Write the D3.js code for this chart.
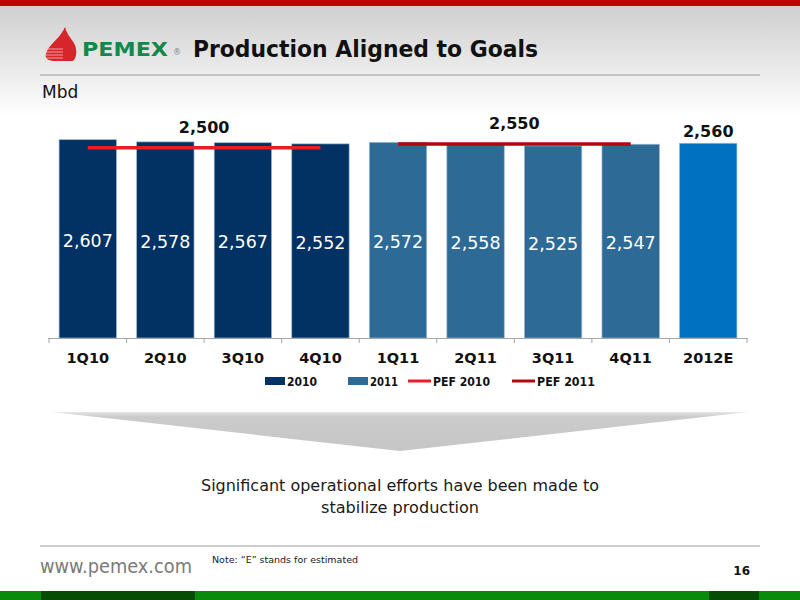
<!DOCTYPE html>
<html>
<head>
<meta charset="utf-8">
<script src="https://cdn.jsdelivr.net/npm/d3@7"></script>
<style>
  body { margin: 0; background: #fff; }
  svg { display: block; }
  text { font-family: "DejaVu Sans", Verdana, sans-serif; }
</style>
</head>
<body>
<div id="chart"></div>
<script>
// chart values
var quarters = ["1Q10", "2Q10", "3Q10", "4Q10", "1Q11", "2Q11", "3Q11", "4Q11", "2012E"];
var production = [2607, 2578, 2567, 2552, 2572, 2558, 2525, 2547, 2560];
var series = ["2010", "2010", "2010", "2010", "2011", "2011", "2011", "2011", "2012E"];
var pefQuarters2010 = ["1Q10", "4Q10"];
var pefQuarters2011 = ["1Q11", "4Q11"];
var pef2010 = 2500;
var pef2011 = 2550;
var legendNames = ["2010", "2011", "PEF 2010", "PEF 2011"];

var colors = { "2010": "#023163", "2011": "#2d6a95", "2012E": "#0070c0",
               "PEF 2010": "#ea1c24", "PEF 2011": "#b5050d" };

var w = 800, h = 600;

var svg = d3.select("#chart")
            .append("svg")
            .attr("width", w)
            .attr("height", h);

var defs = svg.append("defs");
var grad = defs.append("linearGradient")
               .attr("id", "head")
               .attr("x1", 0).attr("y1", 0).attr("x2", 0).attr("y2", 1);
grad.append("stop").attr("offset", "0%").attr("stop-color", "#cfcfcf");
grad.append("stop").attr("offset", "100%").attr("stop-color", "#ffffff");

var agrad = defs.append("linearGradient")
               .attr("id", "arrowFill")
               .attr("x1", 0).attr("y1", 0).attr("x2", 0).attr("y2", 1);
agrad.append("stop").attr("offset", "0%").attr("stop-color", "#e6e6e6");
agrad.append("stop").attr("offset", "12%").attr("stop-color", "#cbcbcb");
agrad.append("stop").attr("offset", "100%").attr("stop-color", "#c6c6c6");

// header band
svg.append("rect").attr("x", 0).attr("y", 6).attr("width", w).attr("height", 110)
   .attr("fill", "url(#head)");
svg.append("rect").attr("x", 0).attr("y", 0).attr("width", w).attr("height", 6)
   .attr("fill", "#c00000");
svg.append("line").attr("x1", 40).attr("x2", 760).attr("y1", 75).attr("y2", 75)
   .attr("stroke", "#b4b4b4").attr("stroke-width", 1.5);

// logo
var logo = svg.append("g").attr("transform", "translate(43,27)");
logo.append("path")
    .attr("d", "M22,0 C18,10 8,16 4,24 C0,32 6,34 12,34 L30,34 C34,30 34,24 32,18 C29,12 24,8 22,0 Z")
    .attr("fill", "#d7262b");
[22, 25, 28, 31].forEach(function(yy) {
  logo.append("line").attr("x1", 2).attr("x2", 20).attr("y1", yy).attr("y2", yy)
      .attr("stroke", "#f3c0c0").attr("stroke-width", 0.8);
});
logo.append("text").attr("x", 39).attr("y", 29)
    .attr("font-family", "'DejaVu Sans'").attr("font-weight", "bold")
    .attr("font-size", 20).attr("fill", "#12894b")
    .attr("textLength", 86).attr("lengthAdjust", "spacingAndGlyphs")
    .text("PEMEX");
logo.append("text").attr("x", 130).attr("y", 28)
    .attr("font-size", 8).attr("fill", "#888").text("®");

svg.append("text").attr("x", 193).attr("y", 57)
   .attr("font-weight", "bold").attr("font-size", 23).attr("fill", "#111")
   .attr("textLength", 345).attr("lengthAdjust", "spacingAndGlyphs")
   .text("Production Aligned to Goals");

svg.append("text").attr("x", 42).attr("y", 98)
   .attr("font-size", 17).attr("fill", "#111").text("Mbd");

// scales
var x = d3.scaleBand()
          .domain(quarters)
          .range([49, 747])
          .paddingInner(0.26)
          .paddingOuter(0.13);

var y = d3.scaleLinear()
          .domain([0, 2800])
          .range([338, 125]);

// bars
svg.selectAll(".bar")
   .data(production)
   .enter()
   .append("rect")
   .attr("class", "bar")
   .attr("x", function(d, i){ return x(quarters[i]); })
   .attr("y", function(d){ return y(d); })
   .attr("width", x.bandwidth())
   .attr("height", function(d){ return y(0) - y(d); })
   .attr("fill", function(d, i){ return colors[series[i]]; })
   .attr("stroke", "#9db7d2")
   .attr("stroke-width", 0.7);

// labels inside bars (not for the estimate)
svg.selectAll(".val")
   .data(production.slice(0, 8))
   .enter()
   .append("text")
   .attr("class", "val")
   .attr("x", function(d, i){ return x(quarters[i]) + x.bandwidth() / 2; })
   .attr("y", function(d){ return (y(d) + y(0)) / 2 + 8; })
   .attr("text-anchor", "middle")
   .attr("font-size", 17)
   .attr("fill", "#fff")
   .attr("textLength", 50).attr("lengthAdjust", "spacingAndGlyphs")
   .text(function(d){ return d3.format(",")(d); });

// estimate label on top
svg.append("text")
   .attr("x", x("2012E") + x.bandwidth() / 2)
   .attr("y", y(production[8]) - 6)
   .attr("text-anchor", "middle")
   .attr("font-weight", "bold").attr("font-size", 16).attr("fill", "#111")
   .text(d3.format(",")(production[8]));

// PEF goal lines
function pefLine(qs, val, color) {
  var x1 = x(qs[0]) + x.bandwidth() / 2;
  var x2 = x(qs[1]) + x.bandwidth() / 2;
  svg.append("line")
     .attr("x1", x1).attr("x2", x2)
     .attr("y1", y(val)).attr("y2", y(val))
     .attr("stroke", color).attr("stroke-width", 3.5);
  svg.append("text")
     .attr("x", (x1 + x2) / 2)
     .attr("y", y(val) - 15)
     .attr("text-anchor", "middle")
     .attr("font-weight", "bold").attr("font-size", 16).attr("fill", "#111")
     .text(d3.format(",")(val));
}
pefLine(pefQuarters2010, pef2010, colors["PEF 2010"]);
pefLine(pefQuarters2011, pef2011, colors["PEF 2011"]);

// x axis
var axisG = svg.append("g").attr("transform", "translate(0," + y(0) + ")");
axisG.append("line").attr("x1", 48).attr("x2", 748).attr("y1", 0.5).attr("y2", 0.5)
     .attr("stroke", "#a6a6a6");
var step = x.step();
var bounds = quarters.map(function(q){ return x(q) - x.paddingInner() * step / 2; });
bounds.push(x(quarters[quarters.length - 1]) + x.bandwidth() + x.paddingInner() * step / 2);
axisG.selectAll(".tk")
     .data(bounds)
     .enter()
     .append("line")
     .attr("x1", function(d){ return d; }).attr("x2", function(d){ return d; })
     .attr("y1", 0).attr("y2", 5)
     .attr("stroke", "#a6a6a6");
axisG.selectAll(".lbl")
     .data(quarters)
     .enter()
     .append("text")
     .attr("x", function(d){ return x(d) + x.bandwidth() / 2; })
     .attr("y", 25)
     .attr("text-anchor", "middle")
     .attr("font-family", "'DejaVu Sans Condensed', 'DejaVu Sans'")
     .attr("font-weight", "bold").attr("font-size", 14.5).attr("fill", "#111")
     .text(function(d){ return d; });

// legend
var legX = [265, 348, 408, 512];
var legTextW = [30, 28, 57, 58];
var leg = svg.selectAll(".leg")
             .data(legendNames)
             .enter()
             .append("g")
             .attr("transform", function(d, i){ return "translate(" + legX[i] + ",381)"; });
leg.each(function(d, i){
  var g = d3.select(this);
  if (i < 2) {
    g.append("rect").attr("x", 0).attr("y", -4).attr("width", 20).attr("height", 8)
     .attr("fill", colors[d]);
  } else {
    g.append("line").attr("x1", 0).attr("x2", 23).attr("y1", 0).attr("y2", 0)
     .attr("stroke", colors[d]).attr("stroke-width", 3);
  }
  g.append("text").attr("x", i < 2 ? 22 : 25).attr("y", 5)
   .attr("font-family", "'DejaVu Sans Condensed', 'DejaVu Sans'")
   .attr("font-weight", "bold").attr("font-size", 13).attr("fill", "#111")
   .attr("textLength", legTextW[i]).attr("lengthAdjust", "spacingAndGlyphs")
   .text(d);
});

// big arrow
svg.append("path")
   .attr("d", "M52,412 L748,412 L400,451 Z")
   .attr("fill", "url(#arrowFill)");

svg.append("text").attr("x", 400).attr("y", 491)
   .attr("text-anchor", "middle").attr("font-size", 15.5).attr("fill", "#1a1a1a")
   .attr("textLength", 398).attr("lengthAdjust", "spacingAndGlyphs")
   .text("Significant operational efforts have been made to");
svg.append("text").attr("x", 400).attr("y", 513)
   .attr("text-anchor", "middle").attr("font-size", 15.5).attr("fill", "#1a1a1a")
   .attr("textLength", 158).attr("lengthAdjust", "spacingAndGlyphs")
   .text("stabilize production");

// footer
svg.append("line").attr("x1", 40).attr("x2", 760).attr("y1", 546).attr("y2", 546)
   .attr("stroke", "#bdbdbd").attr("stroke-width", 1.5);
svg.append("text").attr("x", 40).attr("y", 573)
   .attr("font-family", "'Open Sans', 'DejaVu Sans'")
   .attr("font-size", 19).attr("fill", "#7a7a7a")
   .attr("textLength", 152).attr("lengthAdjust", "spacingAndGlyphs")
   .text("www.pemex.com");
svg.append("text").attr("x", 212).attr("y", 563)
   .attr("font-family", "'DejaVu Sans Condensed', 'DejaVu Sans'")
   .attr("font-size", 9.5).attr("fill", "#222")
   .text("Note: \u201cE\u201d stands for estimated");
svg.append("text").attr("x", 750).attr("y", 575)
   .attr("text-anchor", "end")
   .attr("font-family", "'DejaVu Sans Condensed', 'DejaVu Sans'")
   .attr("font-weight", "bold").attr("font-size", 12).attr("fill", "#111")
   .text("16");

svg.append("rect").attr("x", 0).attr("y", 591).attr("width", w).attr("height", 9)
   .attr("fill", "#0a8a0a");
svg.append("rect").attr("x", 41).attr("y", 591).attr("width", 154).attr("height", 9)
   .attr("fill", "#054d05");
svg.append("rect").attr("x", 709).attr("y", 591).attr("width", 50).attr("height", 9)
   .attr("fill", "#054d05");
</script>
</body>
</html>
